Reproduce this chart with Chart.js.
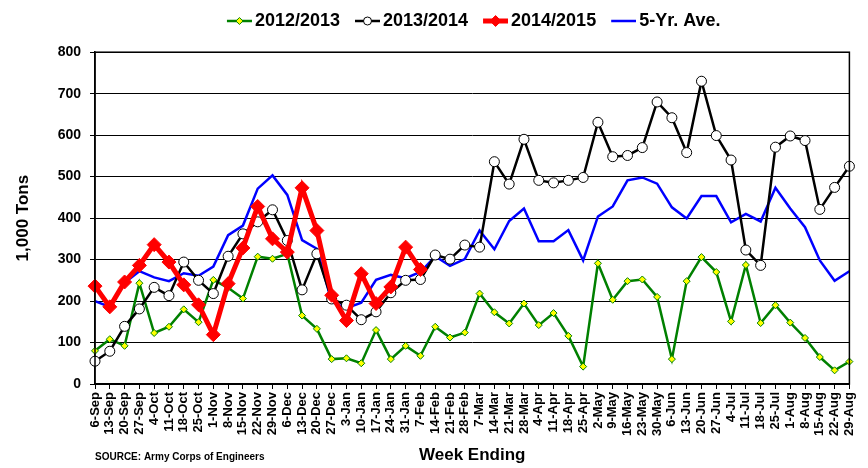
<!DOCTYPE html>
<html>
<head>
<meta charset="utf-8">
<script src="https://cdn.jsdelivr.net/npm/chart.js@4"></script>
<style>
    html, body { margin: 0; padding: 0; background: #fff; }
</style>
</head>
<body>
<canvas id="chart" width="868" height="468"></canvas>
<script>
const weeks = ["6-Sep", "13-Sep", "20-Sep", "27-Sep", "4-Oct", "11-Oct", "18-Oct", "25-Oct",
    "1-Nov", "8-Nov", "15-Nov", "22-Nov", "29-Nov", "6-Dec", "13-Dec", "20-Dec", "27-Dec",
    "3-Jan", "10-Jan", "17-Jan", "24-Jan", "31-Jan", "7-Feb", "14-Feb", "21-Feb", "28-Feb",
    "7-Mar", "14-Mar", "21-Mar", "28-Mar", "4-Apr", "11-Apr", "18-Apr", "25-Apr", "2-May",
    "9-May", "16-May", "23-May", "30-May", "6-Jun", "13-Jun", "20-Jun", "27-Jun", "4-Jul",
    "11-Jul", "18-Jul", "25-Jul", "1-Aug", "8-Aug", "15-Aug", "22-Aug", "29-Aug"];

const season2012 = [80, 108, 92, 243, 123, 138, 180, 149, 251, 232, 206, 307, 302, 314, 165, 133, 60, 62,
    50, 130, 60, 92, 68, 138, 112, 124, 218, 173, 146, 194, 142, 171, 116, 42,
    291, 203, 248, 252, 210, 60, 248, 306, 270, 151, 287, 147, 190, 148, 111, 65, 33, 54];

const season2013 = [55, 79, 139, 181, 233, 213, 294, 250, 218, 308, 362, 391, 420, 346, 227, 314, 205, 190,
    155, 174, 220, 250, 252, 311, 301, 335, 330, 536, 482, 590, 491, 485, 491, 498,
    631, 548, 551, 570, 680, 642, 558, 730, 599, 540, 323, 286, 571, 598, 587, 421, 474, 525];

const season2014 = [236, 186, 246, 286, 336, 294, 239, 191, 119, 242, 328, 428, 350, 318, 473, 370, 214, 153,
    266, 194, 234, 330, 276];

const fiveYearAvg = [200, 186, 244, 272, 257, 248, 267, 261, 283, 359, 382, 471, 503, 456, 347, 326, 198, 183,
    196, 251, 263, 255, 270, 308, 285, 301, 370, 325, 393, 423, 344, 344, 371, 298,
    404, 428, 491, 498, 483, 426, 399, 453, 453, 390, 410, 392, 473, 423, 378, 298, 249, 272];

const yTicks = [0, 100, 200, 300, 400, 500, 600, 700, 800];

Chart.defaults.font.family = "'Liberation Sans', Arial, sans-serif";
Chart.defaults.color = "#000";

// small line+marker pictures for the legend (line sits at the right end of the picture)
function legendIcon(lineColor, lineWidth, marker, fill, stroke, r) {
    let c = document.createElement("canvas");
    c.width = 34;
    c.height = 14;
    let ctx = c.getContext("2d");
    let x0 = 9, x1 = 34, cx = 21.5;
    ctx.strokeStyle = lineColor;
    ctx.lineWidth = lineWidth;
    ctx.beginPath();
    ctx.moveTo(x0, 7);
    ctx.lineTo(x1, 7);
    ctx.stroke();
    if (marker) {
        ctx.beginPath();
        if (marker == "circle") {
            ctx.arc(cx, 7, r, 0, Math.PI * 2);
        } else {
            ctx.moveTo(cx, 7 - r);
            ctx.lineTo(cx + r, 7);
            ctx.lineTo(cx, 7 + r);
            ctx.lineTo(cx - r, 7);
            ctx.closePath();
        }
        ctx.fillStyle = fill;
        ctx.fill();
        ctx.lineWidth = 1;
        ctx.strokeStyle = stroke;
        ctx.stroke();
    }
    return c;
}

const icons = [
    legendIcon("#008000", 2.5, "diamond", "#ffff00", "#008000", 3.5),
    legendIcon("#000000", 2.5, "circle", "#ffffff", "#000000", 4),
    legendIcon("#ff0000", 5, "diamond", "#ff0000", "#ff0000", 5.5),
    legendIcon("#0000ff", 2.5, null)
];

const frame = {
    id: "frame",
    afterDatasetsDraw(chart) {
        let a = chart.chartArea;
        let ctx = chart.ctx;
        ctx.save();
        ctx.strokeStyle = "#000";
        ctx.lineWidth = 1.5;
        ctx.strokeRect(a.left, a.top, a.right - a.left, a.bottom - a.top);
        ctx.restore();
    }
};

const source = {
    id: "source",
    afterDraw(chart) {
        let ctx = chart.ctx;
        ctx.save();
        ctx.font = "bold 10px 'Liberation Sans', Arial, sans-serif";
        ctx.fillStyle = "#000";
        ctx.textBaseline = "middle";
        ctx.fillText("SOURCE: Army Corps of Engineers", 95, 457);
        ctx.restore();
    }
};

new Chart(document.getElementById("chart").getContext("2d"), {
    type: "line",
    data: {
        labels: weeks,
        datasets: [{
            label: "2012/2013",
            data: season2012,
            borderColor: "#008000",
            borderWidth: 2.5,
            pointStyle: "rectRot",
            pointRadius: 3.5,
            pointBackgroundColor: "#ffff00",
            pointBorderColor: "#008000",
            pointBorderWidth: 1,
            order: 2
        }, {
            label: "2013/2014",
            data: season2013,
            borderColor: "#000000",
            borderWidth: 2.5,
            pointStyle: "circle",
            pointRadius: 5,
            pointBackgroundColor: "#ffffff",
            pointBorderColor: "#000000",
            pointBorderWidth: 1,
            order: 1
        }, {
            label: "2014/2015",
            data: season2014,
            borderColor: "#ff0000",
            borderWidth: 5,
            pointStyle: "rectRot",
            pointRadius: 7,
            pointBackgroundColor: "#ff0000",
            pointBorderColor: "#ff0000",
            pointBorderWidth: 1,
            order: 0
        }, {
            label: "5-Yr. Ave.",
            data: fiveYearAvg,
            borderColor: "#0000ff",
            borderWidth: 2.5,
            pointRadius: 0,
            order: 3
        }]
    },
    options: {
        responsive: false,
        animation: false,
        devicePixelRatio: 1,
        layout: {
            padding: { left: 0, right: 17, top: 0, bottom: 0 }
        },
        elements: {
            line: { tension: 0, fill: false }
        },
        plugins: {
            tooltip: { enabled: false },
            title: {
                display: true,
                text: "",
                position: "top",
                weight: 500,
                font: { size: 1 },
                padding: { top: 0, bottom: 11 }
            },
            legend: {
                position: "top",
                fullSize: false,
                align: "center",
                labels: {
                    usePointStyle: true,
                    pointStyleWidth: 22,
                    padding: 12,
                    color: "#000",
                    font: { size: 18, weight: "bold" },
                    sort: (a, b) => a.datasetIndex - b.datasetIndex,
                    generateLabels: function(chart) {
                        let items = Chart.defaults.plugins.legend.labels.generateLabels(chart);
                        for (const item of items) {
                            item.pointStyle = icons[item.datasetIndex];
                        }
                        return items;
                    }
                }
            }
        },
        scales: {
            x: {
                offset: false,
                grid: { display: true, drawOnChartArea: false, tickLength: 5, color: "#000", lineWidth: 1 },
                border: { display: true, color: "#000", width: 1.5 },
                ticks: {
                    autoSkip: false,
                    minRotation: 90,
                    maxRotation: 90,
                    padding: 3,
                    color: "#000",
                    font: { size: 13, weight: "bold" }
                },
                title: {
                    display: true,
                    text: "Week Ending",
                    color: "#000",
                    font: { size: 17, weight: "bold" },
                    padding: { top: 0, bottom: 2 }
                },
                afterFit: function(scale) { scale.height = 84; }
            },
            y: {
                min: 0,
                max: 800,
                afterBuildTicks: function(scale) {
                    scale.ticks = yTicks.map(v => ({ value: v }));
                },
                grid: { color: "#000", lineWidth: 1, tickLength: 5 },
                border: { color: "#000", width: 1.5 },
                ticks: {
                    padding: 9,
                    color: "#000",
                    font: { size: 14, weight: "bold" }
                },
                title: {
                    display: true,
                    text: "1,000 Tons",
                    color: "#000",
                    font: { size: 17, weight: "bold" },
                    padding: { top: 13, bottom: 0 }
                },
                afterFit: function(scale) { scale.width = 95; }
            }
        }
    },
    plugins: [frame, source]
});
</script>
</body>
</html>
